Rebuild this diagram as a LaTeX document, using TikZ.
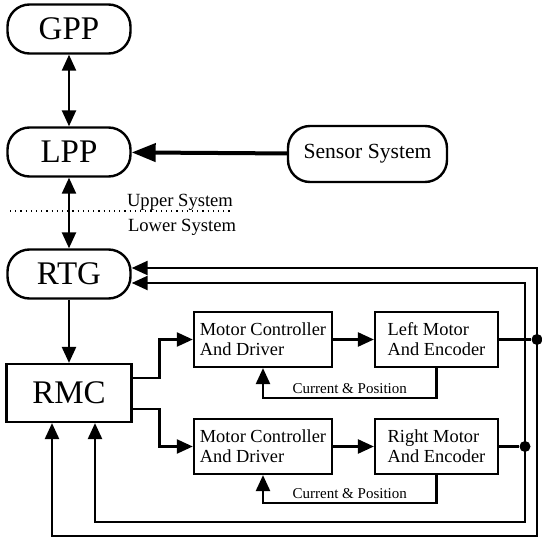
\documentclass[tikz,border=0pt]{standalone}
\usepackage{fontspec}
\setmainfont{Liberation Serif}
\usetikzlibrary{positioning,arrows.meta,calc}

\begin{document}
\begin{tikzpicture}[
    x=0.5pt, y=-0.5pt,
    term/.style   = {draw, line width=1.2pt, rounded corners=11pt, minimum width=61.5pt,
                     minimum height=24.5pt, inner sep=2pt, font=\fontsize{16.5}{18}\selectfont},
    blk/.style    = {draw, line width=1.1pt, minimum height=27.5pt, align=left,
                     inner xsep=3pt, font=\fontsize{9.2}{10}\selectfont},
    ar/.style     = {-{Triangle[length=8pt,width=7pt]}, line width=1.2pt},
    dar/.style    = {{Triangle[length=8pt,width=7pt]}-{Triangle[length=8pt,width=7pt]},
                     line width=1.2pt},
    lbl/.style    = {font=\fontsize{7.5}{9}\selectfont, inner sep=1.5pt},
    sys/.style    = {font=\fontsize{9.3}{11}\selectfont, inner sep=1pt},
    tap/.style    = {circle, fill, inner sep=0pt, minimum size=5.5pt},
]
\useasboundingbox (0,0) rectangle (542,541);

% ---------------- upper system ----------------
\node[term] (gpp) at (69,29) {GPP};
\node[term] (lpp) at (69,152) {LPP};
\node[term, minimum width=79.5pt, minimum height=28pt,
      font=\fontsize{10.8}{12}\selectfont] (sens) at (367.5,154) {Sensor System};

\draw[dar] (gpp) -- (lpp);
\draw[-{Triangle[length=12pt,width=9pt]}, line width=2pt] (sens) -- (lpp);

% ---------------- split ----------------
\coordinate (sepL) at (10,211);
\coordinate (sepR) at (233,211);
\draw[dotted, line width=0.6pt] (sepL) -- (sepR);
\node[sys] (up) at (180,202) {Upper System};
\node[sys] (low) at (182,227) {Lower System};

% ---------------- lower system ----------------
\node[term] (rtg) at (69,274) {RTG};
\node[blk, minimum width=62.5pt, minimum height=29pt,
      font=\fontsize{16.5}{18}\selectfont] (rmc) at (69,393) {RMC};

\node[blk, minimum width=69pt] (mc1) at (263,339.5) {Motor Controller\\And Driver};
\node[blk, minimum width=69pt] (mc2) at (263,446.5) {Motor Controller\\And Driver};
\node[blk, minimum width=61.5pt] (lm) at (436.5,339.5) {Left Motor\\And Encoder};
\node[blk, minimum width=61.5pt] (rm) at (436.5,446.5) {Right Motor\\And Encoder};

\draw[dar] (lpp) -- (rtg);
\draw[ar] (rtg) -- (rmc);

\draw[ar] ([yshift=7.5pt]rmc.east) -- ++(27,0) |- (mc1.west);
\draw[ar] ([yshift=-8pt]rmc.east) -- ++(27,0) |- (mc2.west);
\draw[ar] (mc1) -- (lm);
\draw[ar] (mc2) -- (rm);

% current & position feedback
\draw[ar] (lm.south) -- ++(0,30) -| node[lbl, pos=0.25, above] {Current \& Position} (mc1.south);
\draw[ar] (rm.south) -- ++(0,28) -| node[lbl, pos=0.25, above] {Current \& Position} (mc2.south);

% ---------------- encoder loops ----------------
\coordinate (outT) at (537,268);
\coordinate (outB) at (537,536);
\coordinate (outL) at (52,536);
\coordinate (inT) at (525,283);
\coordinate (inB) at (525,522);
\coordinate (inL) at (95,522);

\node[tap] (tapL) at (537,339.5) {};
\node[tap] (tapR) at (525,446.5) {};
\draw[line width=1.2pt] (lm.east) -- (tapL);
\draw[line width=1.2pt] (rm.east) -- (tapR);

\draw[dar] (rtg.east |- outT) -- (outT) -- (outB) -- (outL) -- (outL |- rmc.south);
\draw[dar] (rtg.east |- inT) -- (inT) -- (inB) -- (inL) -- (inL |- rmc.south);

\end{tikzpicture}
\end{document}
